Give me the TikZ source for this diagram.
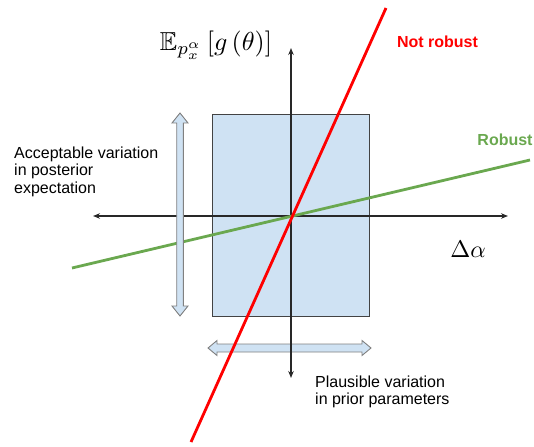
\documentclass[tikz,border=0pt]{standalone}
\usepackage{amssymb}
\usepackage{fontspec}
\newfontfamily\lab{Liberation Sans}
\usetikzlibrary{arrows.meta}
\definecolor{boxblue}{RGB}{207,226,243}
\definecolor{boxedge}{RGB}{67,67,67}
\definecolor{arrowedge}{RGB}{128,128,128}
\definecolor{axisgray}{RGB}{40,40,40}
\definecolor{robgreen}{RGB}{106,168,79}
\definecolor{nrred}{RGB}{255,0,0}
\tikzset{
  axisline/.style={draw=axisgray, line width=1.1pt, {Stealth[length=7pt,width=5.5pt]}-{Stealth[length=7pt,width=5.5pt]}},
  fatarrow/.style={fill=boxblue, draw=arrowedge, line width=0.9pt, line join=miter},
  plainlab/.style={font=\lab\fontsize{16}{17.5}\selectfont, align=left, inner sep=0pt},
  boldlab/.style={font=\lab\bfseries\fontsize{16}{18}\selectfont, inner sep=0pt},
  mathlab/.style={inner sep=0pt}
}
\begin{document}
\begin{tikzpicture}[x=1pt,y=-1pt]
\useasboundingbox (0,0) rectangle (534,446);
% coordinates
\coordinate (O) at (291,216);
\coordinate (xl) at (93,216);
\coordinate (xr) at (508,216);
\coordinate (yt) at (291,48);
\coordinate (yb) at (291,378);
\coordinate (r1) at (191,442);
\coordinate (r2) at (386,8);
\coordinate (g1) at (72,268);
\coordinate (g2) at (530,160);
% box
\draw[fill=boxblue, draw=boxedge, line width=0.9pt] (212,114) rectangle (369,316);
% horizontal fat double arrow
\draw[fatarrow] (208,348) -- (217,340.5) -- (217,344) -- (362,344) -- (362,340.5) -- (371,348)
  -- (362,355.5) -- (362,352) -- (217,352) -- (217,355.5) -- cycle;
% axes
\draw[axisline] (xl) -- (xr);
\draw[axisline] (yb) -- (yt);
% robust line
\draw[robgreen, line width=2.8pt] (g1) -- (g2);
% vertical fat double arrow
\draw[fatarrow] (180,113) -- (188,123) -- (183.3,123) -- (183.3,306) -- (188,306) -- (180,316)
  -- (172,306) -- (176.7,306) -- (176.7,123) -- (172,123) -- cycle;
% not robust line
\draw[nrred, line width=2.8pt] (r1) -- (r2);
% labels
\node[mathlab, scale=2.6] (ylab) at (216,45) {$\mathbb{E}_{p_x^\alpha}\left[g\left(\theta\right)\right]$};
\node[mathlab, scale=2.4] (xlab) at (468,249) {$\Delta\alpha$};
\node[boldlab, text=nrred] (nr) at (437.5,42) {Not robust};
\node[boldlab, text=robgreen] (rb) at (505,140) {Robust};
\node[plainlab, anchor=north west] (acc) at (14,146.5) {Acceptable variation\\in posterior\\expectation};
\node[plainlab, anchor=north west] (pl) at (315,375.5) {Plausible variation\\in prior parameters};
\end{tikzpicture}
\end{document}
